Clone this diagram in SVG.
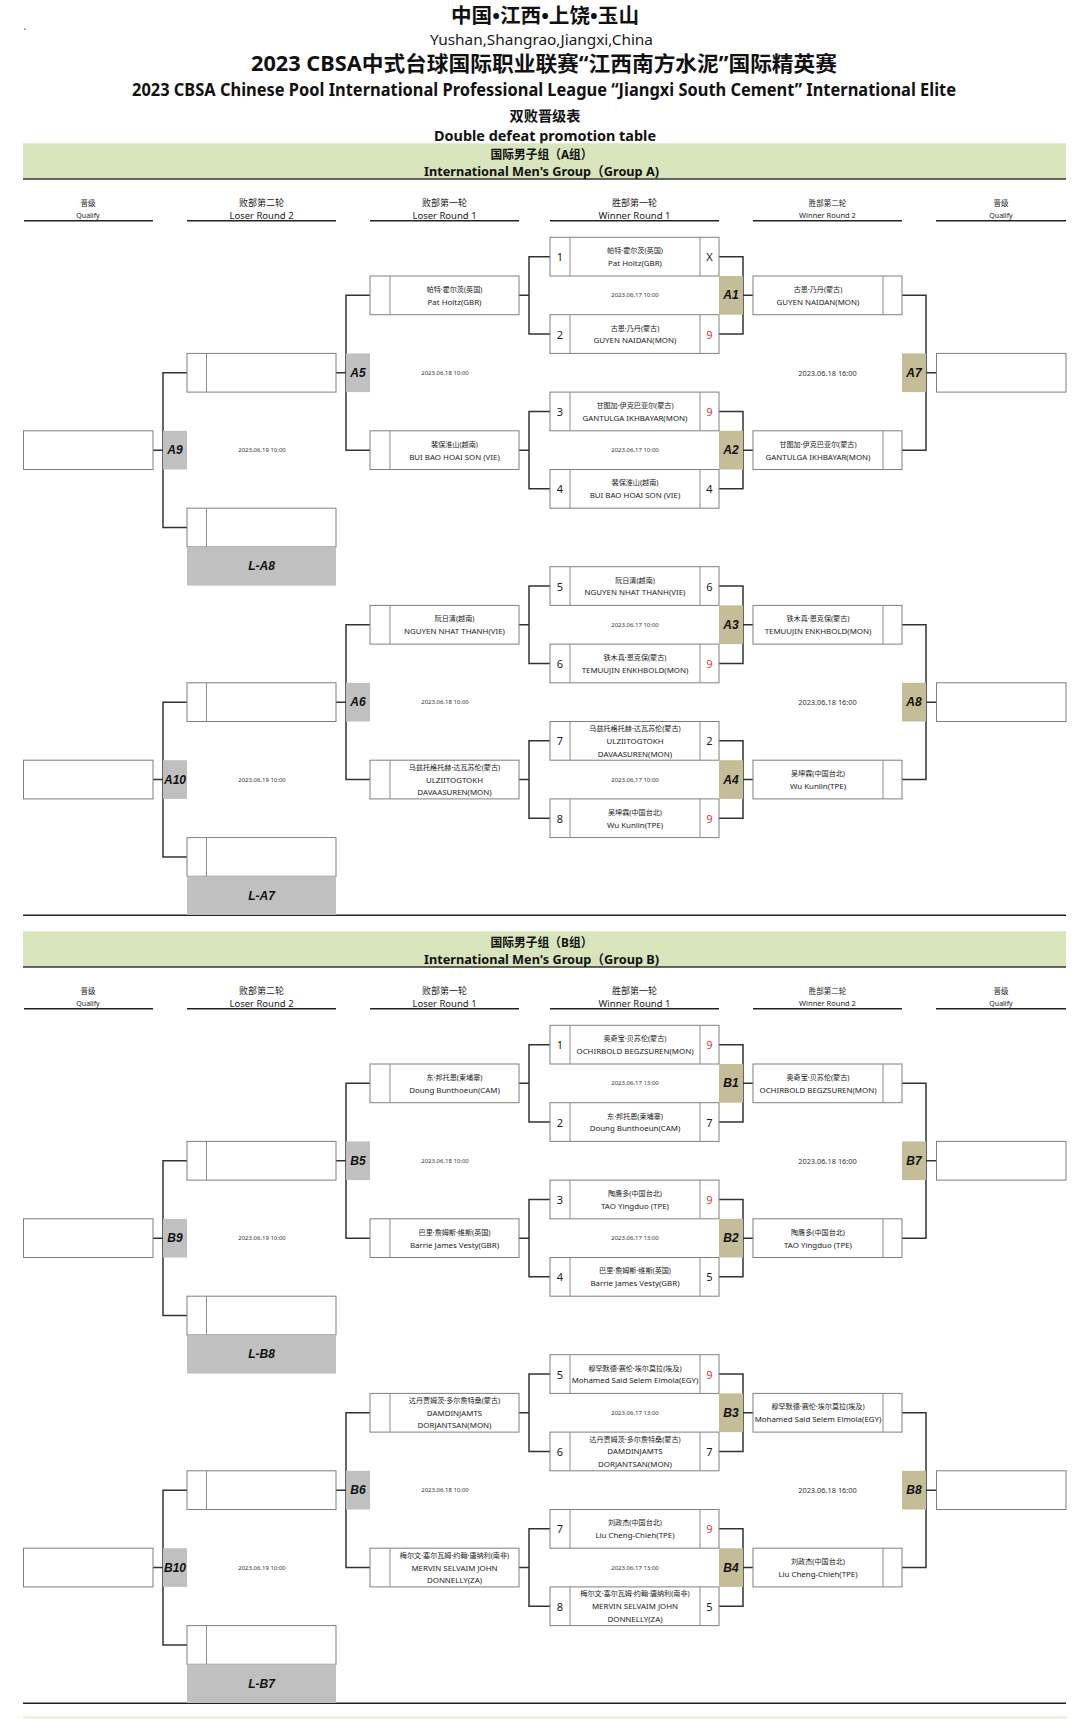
<svg xmlns="http://www.w3.org/2000/svg" xmlns:xlink="http://www.w3.org/1999/xlink" width="1080" height="1719" viewBox="0 0 1080 1719">
<style>
.box{fill:#fff;stroke:#7f7f7f;stroke-width:1}
.dv{fill:none;stroke:#8c8c8c;stroke-width:1}
.con{fill:none;stroke:#333;stroke-width:1.5}
.lw{fill:#c4bd97}
.ll{fill:#c0c0c0}
.band{fill:#d8e4bc}
.rule{stroke:#222;stroke-width:1.4}
.t{font-family:"Noto Sans","Noto Sans CJK SC",sans-serif;text-anchor:middle;dominant-baseline:central;fill:#1a1a1a}
.en{font-size:7.9px}
.cn{font-size:7.1px}
.num{font-size:11px}
.red{fill:#d93a3a}
.dt{font-size:6px;fill:#333}
.dt2{font-size:7.4px;fill:#333}
.lb{font-family:"Liberation Sans",sans-serif;font-weight:700;font-style:italic;font-size:12px;text-anchor:middle;dominant-baseline:central;fill:#111}
.h{font-family:"Noto Sans","Noto Sans CJK SC",sans-serif;font-weight:700;text-anchor:middle;dominant-baseline:central;fill:#111}
.ch{font-family:"Noto Sans CJK SC",sans-serif;text-anchor:middle;dominant-baseline:central;fill:#222}
</style>
<defs>
<path id="bracket" class="con" d="M719,19.35H743V96.75H719M743,58.05H753M719,174.15H743V251.55H719M743,212.85H753M902,58.05H926V212.85H902M926,135.45H936.5M550,19.35H529V96.75H550M519,58.05H529M550,174.15H529V251.55H550M519,212.85H529M370,58.05H346V212.85H370M336,135.45H346M187,135.45H163V290.25H187M153,212.85H163"/>
<g id="colheads">
<text class="ch" x="88" y="202.3" font-size="7.5">晋级</text>
<text class="t" x="88" y="215" font-size="7">Qualify</text>
<text class="ch" x="261.5" y="202.3" font-size="9">败部第二轮</text>
<text class="t" x="261.5" y="215" font-size="9.5">Loser Round 2</text>
<text class="ch" x="444.5" y="202.3" font-size="9">败部第一轮</text>
<text class="t" x="444.5" y="215" font-size="9.5">Loser Round 1</text>
<text class="ch" x="634.5" y="202.3" font-size="9">胜部第一轮</text>
<text class="t" x="634.5" y="215" font-size="9.5">Winner Round 1</text>
<text class="ch" x="827.5" y="202.3" font-size="7.5">胜部第二轮</text>
<text class="t" x="827.5" y="215" font-size="7.5">Winner Round 2</text>
<text class="ch" x="1001" y="202.3" font-size="7.5">晋级</text>
<text class="t" x="1001" y="215" font-size="7">Qualify</text>
<path class="rule" d="M24,220.7H153M187,220.7H336M370,220.7H519M550,220.7H719M753,220.7H902M936,220.7H1066"/>
</g>
</defs>
<rect width="1080" height="1719" fill="#fff"/>
<rect x="24" y="28.5" width="1.5" height="1.2" fill="#555"/>

<g id="titles">
<text class="h" x="545" y="15" font-size="20" textLength="188" lengthAdjust="spacingAndGlyphs">中国•江西•上饶•玉山</text>
<text class="t" x="541.5" y="39" font-size="14" textLength="223" lengthAdjust="spacingAndGlyphs" fill="#111">Yushan,Shangrao,Jiangxi,China</text>
<text class="h" x="544" y="63.3" font-size="21" textLength="586" lengthAdjust="spacingAndGlyphs">2023 CBSA中式台球国际职业联赛“江西南方水泥”国际精英赛</text>
<text class="h" x="544" y="89" font-size="17.5" textLength="824" lengthAdjust="spacingAndGlyphs">2023 CBSA Chinese Pool International Professional League “Jiangxi South Cement” International Elite</text>
<text class="h" x="545" y="115.7" font-size="14" textLength="71" lengthAdjust="spacingAndGlyphs">双败晋级表</text>
<text class="h" x="545" y="135" font-size="15" textLength="222" lengthAdjust="spacingAndGlyphs">Double defeat promotion table</text>
</g>

<g id="groupA-header">
<rect class="band" x="23" y="143.3" width="1043" height="35.7"/>
<path d="M23,179H1066" stroke="#333" stroke-width="1.5"/>
<text class="h" x="541.5" y="154" font-size="12.5" textLength="102" lengthAdjust="spacingAndGlyphs">国际男子组（A组）</text>
<text class="h" x="541.5" y="171" font-size="13" textLength="235" lengthAdjust="spacingAndGlyphs">International Men's Group（Group A)</text>
<use xlink:href="#colheads"/>
</g>

<g id="groupB-header">
<rect class="band" x="23" y="931.3" width="1043" height="35.7"/>
<path d="M23,967H1066" stroke="#333" stroke-width="1.5"/>
<text class="h" x="541.5" y="942" font-size="12.5" textLength="102" lengthAdjust="spacingAndGlyphs">国际男子组（B组）</text>
<text class="h" x="541.5" y="959" font-size="13" textLength="235" lengthAdjust="spacingAndGlyphs">International Men's Group（Group B)</text>
<use xlink:href="#colheads" y="788"/>
</g>

<g id="separators">
<path class="rule" d="M23,915.3H1066M23,1703.3H1066"/>
<rect x="23" y="1716" width="1043" height="3" fill="#eef2e3"/>
</g>

<g id="connectors">
<use xlink:href="#bracket" y="237.3"/>
<use xlink:href="#bracket" y="566.7"/>
<use xlink:href="#bracket" y="1025.3"/>
<use xlink:href="#bracket" y="1354.7"/>
</g>

<!-- ===== GROUP A, upper half ===== -->
<g transform="translate(0,237.3)">
<g id="A-qual-left-1"><rect class="box" x="23.5" y="193.5" width="129.5" height="38.7"/></g>
<g id="A9"><rect class="ll" x="163" y="193.5" width="24" height="38.7"/><text class="lb" x="175" y="212.85">A9</text><text class="t dt" x="262" y="212.85">2023.06.19 10:00</text></g>
<g id="A-lr2-1"><rect class="box" x="187" y="116.1" width="149" height="38.7"/><path class="dv" d="M206.5,116.1V154.8"/></g>
<g id="A-lr2-2"><rect class="box" x="187" y="270.9" width="149" height="38.7"/><path class="dv" d="M206.5,270.9V309.6"/></g>
<g id="L-A8"><rect class="ll" x="187" y="309.6" width="149" height="38.7"/><text class="lb" x="261.5" y="328.95">L-A8</text></g>
<g id="A5"><rect class="ll" x="346" y="116.1" width="24" height="38.7"/><text class="lb" x="358" y="135.45">A5</text><text class="t dt" x="445" y="135.45">2023.06.18 10:00</text></g>
<g id="A-lr1-1" transform="translate(370,38.7)"><rect class="box" width="149" height="38.7"/><path class="dv" d="M20,0V38.7"/><text class="t cn" x="84.5" y="12.95">帕特·霍尔茨(英国)</text><text class="t en" x="84.5" y="25.75">Pat Holtz(GBR)</text></g>
<g id="A-lr1-2" transform="translate(370,193.5)"><rect class="box" width="149" height="38.7"/><path class="dv" d="M20,0V38.7"/><text class="t cn" x="84.5" y="12.95">裴保淮山(越南)</text><text class="t en" x="84.5" y="25.75">BUI BAO HOAI SON (VIE)</text></g>
<g id="A-m1" transform="translate(550,0)"><rect class="box" width="169" height="38.7"/><path class="dv" d="M20,0V38.7M150,0V38.7"/><text class="t num" x="10" y="19.35">1</text><text class="t cn" x="85" y="12.95">帕特·霍尔茨(英国)</text><text class="t en" x="85" y="25.75">Pat Holtz(GBR)</text><text class="t num" x="159.5" y="19.35">X</text></g>
<g id="A-m2" transform="translate(550,77.4)"><rect class="box" width="169" height="38.7"/><path class="dv" d="M20,0V38.7M150,0V38.7"/><text class="t num" x="10" y="19.35">2</text><text class="t cn" x="85" y="12.95">古恩·乃丹(蒙古)</text><text class="t en" x="85" y="25.75">GUYEN NAIDAN(MON)</text><text class="t num red" x="159.5" y="19.35">9</text></g>
<g id="A-m3" transform="translate(550,154.8)"><rect class="box" width="169" height="38.7"/><path class="dv" d="M20,0V38.7M150,0V38.7"/><text class="t num" x="10" y="19.35">3</text><text class="t cn" x="85" y="12.95">甘图加·伊克巴亚尔(蒙古)</text><text class="t en" x="85" y="25.75">GANTULGA IKHBAYAR(MON)</text><text class="t num red" x="159.5" y="19.35">9</text></g>
<g id="A-m4" transform="translate(550,232.2)"><rect class="box" width="169" height="38.7"/><path class="dv" d="M20,0V38.7M150,0V38.7"/><text class="t num" x="10" y="19.35">4</text><text class="t cn" x="85" y="12.95">裴保淮山(越南)</text><text class="t en" x="85" y="25.75">BUI BAO HOAI SON (VIE)</text><text class="t num" x="159.5" y="19.35">4</text></g>
<g id="A1"><rect class="lw" x="719" y="38.7" width="24" height="38.7"/><text class="lb" x="731" y="58.05">A1</text><text class="t dt" x="635" y="58.05">2023.06.17 10:00</text></g>
<g id="A2"><rect class="lw" x="719" y="193.5" width="24" height="38.7"/><text class="lb" x="731" y="212.85">A2</text><text class="t dt" x="635" y="212.85">2023.06.17 10:00</text></g>
<g id="A-wr2-1" transform="translate(753,38.7)"><rect class="box" width="149" height="38.7"/><path class="dv" d="M130,0V38.7"/><text class="t cn" x="65" y="12.95">古恩·乃丹(蒙古)</text><text class="t en" x="65" y="25.75">GUYEN NAIDAN(MON)</text></g>
<g id="A-wr2-2" transform="translate(753,193.5)"><rect class="box" width="149" height="38.7"/><path class="dv" d="M130,0V38.7"/><text class="t cn" x="65" y="12.95">甘图加·伊克巴亚尔(蒙古)</text><text class="t en" x="65" y="25.75">GANTULGA IKHBAYAR(MON)</text></g>
<g id="A7"><rect class="lw" x="902" y="116.1" width="24" height="38.7"/><text class="lb" x="914" y="135.45">A7</text><text class="t dt2" x="827.5" y="135.45">2023.06.18 16:00</text></g>
<g id="A-qual-right-1"><rect class="box" x="936.5" y="116.1" width="129.5" height="38.7"/></g>
</g>

<!-- ===== GROUP A, lower half ===== -->
<g transform="translate(0,566.7)">
<g id="A-qual-left-2"><rect class="box" x="23.5" y="193.5" width="129.5" height="38.7"/></g>
<g id="A10"><rect class="ll" x="163" y="193.5" width="24" height="38.7"/><text class="lb" x="175" y="212.85">A10</text><text class="t dt" x="262" y="212.85">2023.06.19 10:00</text></g>
<g id="A-lr2-3"><rect class="box" x="187" y="116.1" width="149" height="38.7"/><path class="dv" d="M206.5,116.1V154.8"/></g>
<g id="A-lr2-4"><rect class="box" x="187" y="270.9" width="149" height="38.7"/><path class="dv" d="M206.5,270.9V309.6"/></g>
<g id="L-A7"><rect class="ll" x="187" y="309.6" width="149" height="38.7"/><text class="lb" x="261.5" y="328.95">L-A7</text></g>
<g id="A6"><rect class="ll" x="346" y="116.1" width="24" height="38.7"/><text class="lb" x="358" y="135.45">A6</text><text class="t dt" x="445" y="135.45">2023.06.18 10:00</text></g>
<g id="A-lr1-3" transform="translate(370,38.7)"><rect class="box" width="149" height="38.7"/><path class="dv" d="M20,0V38.7"/><text class="t cn" x="84.5" y="12.95">阮日清(越南)</text><text class="t en" x="84.5" y="25.75">NGUYEN NHAT THANH(VIE)</text></g>
<g id="A-lr1-4" transform="translate(370,193.5)"><rect class="box" width="149" height="38.7"/><path class="dv" d="M20,0V38.7"/><text class="t cn" x="84.5" y="6.6">乌兹托格托赫·达瓦苏伦(蒙古)</text><text class="t en" x="84.5" y="19.35">ULZIITOGTOKH</text><text class="t en" x="84.5" y="32.05">DAVAASUREN(MON)</text></g>
<g id="A-m5" transform="translate(550,0)"><rect class="box" width="169" height="38.7"/><path class="dv" d="M20,0V38.7M150,0V38.7"/><text class="t num" x="10" y="19.35">5</text><text class="t cn" x="85" y="12.95">阮日清(越南)</text><text class="t en" x="85" y="25.75">NGUYEN NHAT THANH(VIE)</text><text class="t num" x="159.5" y="19.35">6</text></g>
<g id="A-m6" transform="translate(550,77.4)"><rect class="box" width="169" height="38.7"/><path class="dv" d="M20,0V38.7M150,0V38.7"/><text class="t num" x="10" y="19.35">6</text><text class="t cn" x="85" y="12.95">铁木真·恩克保(蒙古)</text><text class="t en" x="85" y="25.75">TEMUUJIN ENKHBOLD(MON)</text><text class="t num red" x="159.5" y="19.35">9</text></g>
<g id="A-m7" transform="translate(550,154.8)"><rect class="box" width="169" height="38.7"/><path class="dv" d="M20,0V38.7M150,0V38.7"/><text class="t num" x="10" y="19.35">7</text><text class="t cn" x="85" y="6.6">乌兹托格托赫·达瓦苏伦(蒙古)</text><text class="t en" x="85" y="19.35">ULZIITOGTOKH</text><text class="t en" x="85" y="32.05">DAVAASUREN(MON)</text><text class="t num" x="159.5" y="19.35">2</text></g>
<g id="A-m8" transform="translate(550,232.2)"><rect class="box" width="169" height="38.7"/><path class="dv" d="M20,0V38.7M150,0V38.7"/><text class="t num" x="10" y="19.35">8</text><text class="t cn" x="85" y="12.95">吴坤霖(中国台北)</text><text class="t en" x="85" y="25.75">Wu Kunlin(TPE)</text><text class="t num red" x="159.5" y="19.35">9</text></g>
<g id="A3"><rect class="lw" x="719" y="38.7" width="24" height="38.7"/><text class="lb" x="731" y="58.05">A3</text><text class="t dt" x="635" y="58.05">2023.06.17 10:00</text></g>
<g id="A4"><rect class="lw" x="719" y="193.5" width="24" height="38.7"/><text class="lb" x="731" y="212.85">A4</text><text class="t dt" x="635" y="212.85">2023.06.17 10:00</text></g>
<g id="A-wr2-3" transform="translate(753,38.7)"><rect class="box" width="149" height="38.7"/><path class="dv" d="M130,0V38.7"/><text class="t cn" x="65" y="12.95">铁木真·恩克保(蒙古)</text><text class="t en" x="65" y="25.75">TEMUUJIN ENKHBOLD(MON)</text></g>
<g id="A-wr2-4" transform="translate(753,193.5)"><rect class="box" width="149" height="38.7"/><path class="dv" d="M130,0V38.7"/><text class="t cn" x="65" y="12.95">吴坤霖(中国台北)</text><text class="t en" x="65" y="25.75">Wu Kunlin(TPE)</text></g>
<g id="A8"><rect class="lw" x="902" y="116.1" width="24" height="38.7"/><text class="lb" x="914" y="135.45">A8</text><text class="t dt2" x="827.5" y="135.45">2023.06.18 16:00</text></g>
<g id="A-qual-right-2"><rect class="box" x="936.5" y="116.1" width="129.5" height="38.7"/></g>
</g>

<!-- ===== GROUP B, upper half ===== -->
<g transform="translate(0,1025.3)">
<g id="B-qual-left-1"><rect class="box" x="23.5" y="193.5" width="129.5" height="38.7"/></g>
<g id="B9"><rect class="ll" x="163" y="193.5" width="24" height="38.7"/><text class="lb" x="175" y="212.85">B9</text><text class="t dt" x="262" y="212.85">2023.06.19 10:00</text></g>
<g id="B-lr2-1"><rect class="box" x="187" y="116.1" width="149" height="38.7"/><path class="dv" d="M206.5,116.1V154.8"/></g>
<g id="B-lr2-2"><rect class="box" x="187" y="270.9" width="149" height="38.7"/><path class="dv" d="M206.5,270.9V309.6"/></g>
<g id="L-B8"><rect class="ll" x="187" y="309.6" width="149" height="38.7"/><text class="lb" x="261.5" y="328.95">L-B8</text></g>
<g id="B5"><rect class="ll" x="346" y="116.1" width="24" height="38.7"/><text class="lb" x="358" y="135.45">B5</text><text class="t dt" x="445" y="135.45">2023.06.18 10:00</text></g>
<g id="B-lr1-1" transform="translate(370,38.7)"><rect class="box" width="149" height="38.7"/><path class="dv" d="M20,0V38.7"/><text class="t cn" x="84.5" y="12.95">东·邦托恩(柬埔寨)</text><text class="t en" x="84.5" y="25.75">Doung Bunthoeun(CAM)</text></g>
<g id="B-lr1-2" transform="translate(370,193.5)"><rect class="box" width="149" height="38.7"/><path class="dv" d="M20,0V38.7"/><text class="t cn" x="84.5" y="12.95">巴里·詹姆斯·维斯(英国)</text><text class="t en" x="84.5" y="25.75">Barrie James Vesty(GBR)</text></g>
<g id="B-m1" transform="translate(550,0)"><rect class="box" width="169" height="38.7"/><path class="dv" d="M20,0V38.7M150,0V38.7"/><text class="t num" x="10" y="19.35">1</text><text class="t cn" x="85" y="12.95">奥奇宝·贝苏伦(蒙古)</text><text class="t en" x="85" y="25.75">OCHIRBOLD BEGZSUREN(MON)</text><text class="t num red" x="159.5" y="19.35">9</text></g>
<g id="B-m2" transform="translate(550,77.4)"><rect class="box" width="169" height="38.7"/><path class="dv" d="M20,0V38.7M150,0V38.7"/><text class="t num" x="10" y="19.35">2</text><text class="t cn" x="85" y="12.95">东·邦托恩(柬埔寨)</text><text class="t en" x="85" y="25.75">Doung Bunthoeun(CAM)</text><text class="t num" x="159.5" y="19.35">7</text></g>
<g id="B-m3" transform="translate(550,154.8)"><rect class="box" width="169" height="38.7"/><path class="dv" d="M20,0V38.7M150,0V38.7"/><text class="t num" x="10" y="19.35">3</text><text class="t cn" x="85" y="12.95">陶膺多(中国台北)</text><text class="t en" x="85" y="25.75">TAO Yingduo (TPE)</text><text class="t num red" x="159.5" y="19.35">9</text></g>
<g id="B-m4" transform="translate(550,232.2)"><rect class="box" width="169" height="38.7"/><path class="dv" d="M20,0V38.7M150,0V38.7"/><text class="t num" x="10" y="19.35">4</text><text class="t cn" x="85" y="12.95">巴里·詹姆斯·维斯(英国)</text><text class="t en" x="85" y="25.75">Barrie James Vesty(GBR)</text><text class="t num" x="159.5" y="19.35">5</text></g>
<g id="B1"><rect class="lw" x="719" y="38.7" width="24" height="38.7"/><text class="lb" x="731" y="58.05">B1</text><text class="t dt" x="635" y="58.05">2023.06.17 13:00</text></g>
<g id="B2"><rect class="lw" x="719" y="193.5" width="24" height="38.7"/><text class="lb" x="731" y="212.85">B2</text><text class="t dt" x="635" y="212.85">2023.06.17 13:00</text></g>
<g id="B-wr2-1" transform="translate(753,38.7)"><rect class="box" width="149" height="38.7"/><path class="dv" d="M130,0V38.7"/><text class="t cn" x="65" y="12.95">奥奇宝·贝苏伦(蒙古)</text><text class="t en" x="65" y="25.75">OCHIRBOLD BEGZSUREN(MON)</text></g>
<g id="B-wr2-2" transform="translate(753,193.5)"><rect class="box" width="149" height="38.7"/><path class="dv" d="M130,0V38.7"/><text class="t cn" x="65" y="12.95">陶膺多(中国台北)</text><text class="t en" x="65" y="25.75">TAO Yingduo (TPE)</text></g>
<g id="B7"><rect class="lw" x="902" y="116.1" width="24" height="38.7"/><text class="lb" x="914" y="135.45">B7</text><text class="t dt2" x="827.5" y="135.45">2023.06.18 16:00</text></g>
<g id="B-qual-right-1"><rect class="box" x="936.5" y="116.1" width="129.5" height="38.7"/></g>
</g>

<!-- ===== GROUP B, lower half ===== -->
<g transform="translate(0,1354.7)">
<g id="B-qual-left-2"><rect class="box" x="23.5" y="193.5" width="129.5" height="38.7"/></g>
<g id="B10"><rect class="ll" x="163" y="193.5" width="24" height="38.7"/><text class="lb" x="175" y="212.85">B10</text><text class="t dt" x="262" y="212.85">2023.06.19 10:00</text></g>
<g id="B-lr2-3"><rect class="box" x="187" y="116.1" width="149" height="38.7"/><path class="dv" d="M206.5,116.1V154.8"/></g>
<g id="B-lr2-4"><rect class="box" x="187" y="270.9" width="149" height="38.7"/><path class="dv" d="M206.5,270.9V309.6"/></g>
<g id="L-B7"><rect class="ll" x="187" y="309.6" width="149" height="38.7"/><text class="lb" x="261.5" y="328.95">L-B7</text></g>
<g id="B6"><rect class="ll" x="346" y="116.1" width="24" height="38.7"/><text class="lb" x="358" y="135.45">B6</text><text class="t dt" x="445" y="135.45">2023.06.18 10:00</text></g>
<g id="B-lr1-3" transform="translate(370,38.7)"><rect class="box" width="149" height="38.7"/><path class="dv" d="M20,0V38.7"/><text class="t cn" x="84.5" y="6.6">达丹贾姆茨·多尔詹特桑(蒙古)</text><text class="t en" x="84.5" y="19.35">DAMDINJAMTS</text><text class="t en" x="84.5" y="32.05">DORJANTSAN(MON)</text></g>
<g id="B-lr1-4" transform="translate(370,193.5)"><rect class="box" width="149" height="38.7"/><path class="dv" d="M20,0V38.7"/><text class="t cn" x="84.5" y="6.6">梅尔文·塞尔瓦姆·约翰·唐纳利(南非)</text><text class="t en" x="84.5" y="19.35">MERVIN SELVAIM JOHN</text><text class="t en" x="84.5" y="32.05">DONNELLY(ZA)</text></g>
<g id="B-m5" transform="translate(550,0)"><rect class="box" width="169" height="38.7"/><path class="dv" d="M20,0V38.7M150,0V38.7"/><text class="t num" x="10" y="19.35">5</text><text class="t cn" x="85" y="12.95">穆罕默德·赛伦·埃尔莫拉(埃及)</text><text class="t en" x="85" y="25.75">Mohamed Said Selem Elmola(EGY)</text><text class="t num red" x="159.5" y="19.35">9</text></g>
<g id="B-m6" transform="translate(550,77.4)"><rect class="box" width="169" height="38.7"/><path class="dv" d="M20,0V38.7M150,0V38.7"/><text class="t num" x="10" y="19.35">6</text><text class="t cn" x="85" y="6.6">达丹贾姆茨·多尔詹特桑(蒙古)</text><text class="t en" x="85" y="19.35">DAMDINJAMTS</text><text class="t en" x="85" y="32.05">DORJANTSAN(MON)</text><text class="t num" x="159.5" y="19.35">7</text></g>
<g id="B-m7" transform="translate(550,154.8)"><rect class="box" width="169" height="38.7"/><path class="dv" d="M20,0V38.7M150,0V38.7"/><text class="t num" x="10" y="19.35">7</text><text class="t cn" x="85" y="12.95">刘政杰(中国台北)</text><text class="t en" x="85" y="25.75">Liu Cheng-Chieh(TPE)</text><text class="t num red" x="159.5" y="19.35">9</text></g>
<g id="B-m8" transform="translate(550,232.2)"><rect class="box" width="169" height="38.7"/><path class="dv" d="M20,0V38.7M150,0V38.7"/><text class="t num" x="10" y="19.35">8</text><text class="t cn" x="85" y="6.6">梅尔文·塞尔瓦姆·约翰·唐纳利(南非)</text><text class="t en" x="85" y="19.35">MERVIN SELVAIM JOHN</text><text class="t en" x="85" y="32.05">DONNELLY(ZA)</text><text class="t num" x="159.5" y="19.35">5</text></g>
<g id="B3"><rect class="lw" x="719" y="38.7" width="24" height="38.7"/><text class="lb" x="731" y="58.05">B3</text><text class="t dt" x="635" y="58.05">2023.06.17 13:00</text></g>
<g id="B4"><rect class="lw" x="719" y="193.5" width="24" height="38.7"/><text class="lb" x="731" y="212.85">B4</text><text class="t dt" x="635" y="212.85">2023.06.17 13:00</text></g>
<g id="B-wr2-3" transform="translate(753,38.7)"><rect class="box" width="149" height="38.7"/><path class="dv" d="M130,0V38.7"/><text class="t cn" x="65" y="12.95">穆罕默德·赛伦·埃尔莫拉(埃及)</text><text class="t en" x="65" y="25.75">Mohamed Said Selem Elmola(EGY)</text></g>
<g id="B-wr2-4" transform="translate(753,193.5)"><rect class="box" width="149" height="38.7"/><path class="dv" d="M130,0V38.7"/><text class="t cn" x="65" y="12.95">刘政杰(中国台北)</text><text class="t en" x="65" y="25.75">Liu Cheng-Chieh(TPE)</text></g>
<g id="B8"><rect class="lw" x="902" y="116.1" width="24" height="38.7"/><text class="lb" x="914" y="135.45">B8</text><text class="t dt2" x="827.5" y="135.45">2023.06.18 16:00</text></g>
<g id="B-qual-right-2"><rect class="box" x="936.5" y="116.1" width="129.5" height="38.7"/></g>
</g>
</svg>
